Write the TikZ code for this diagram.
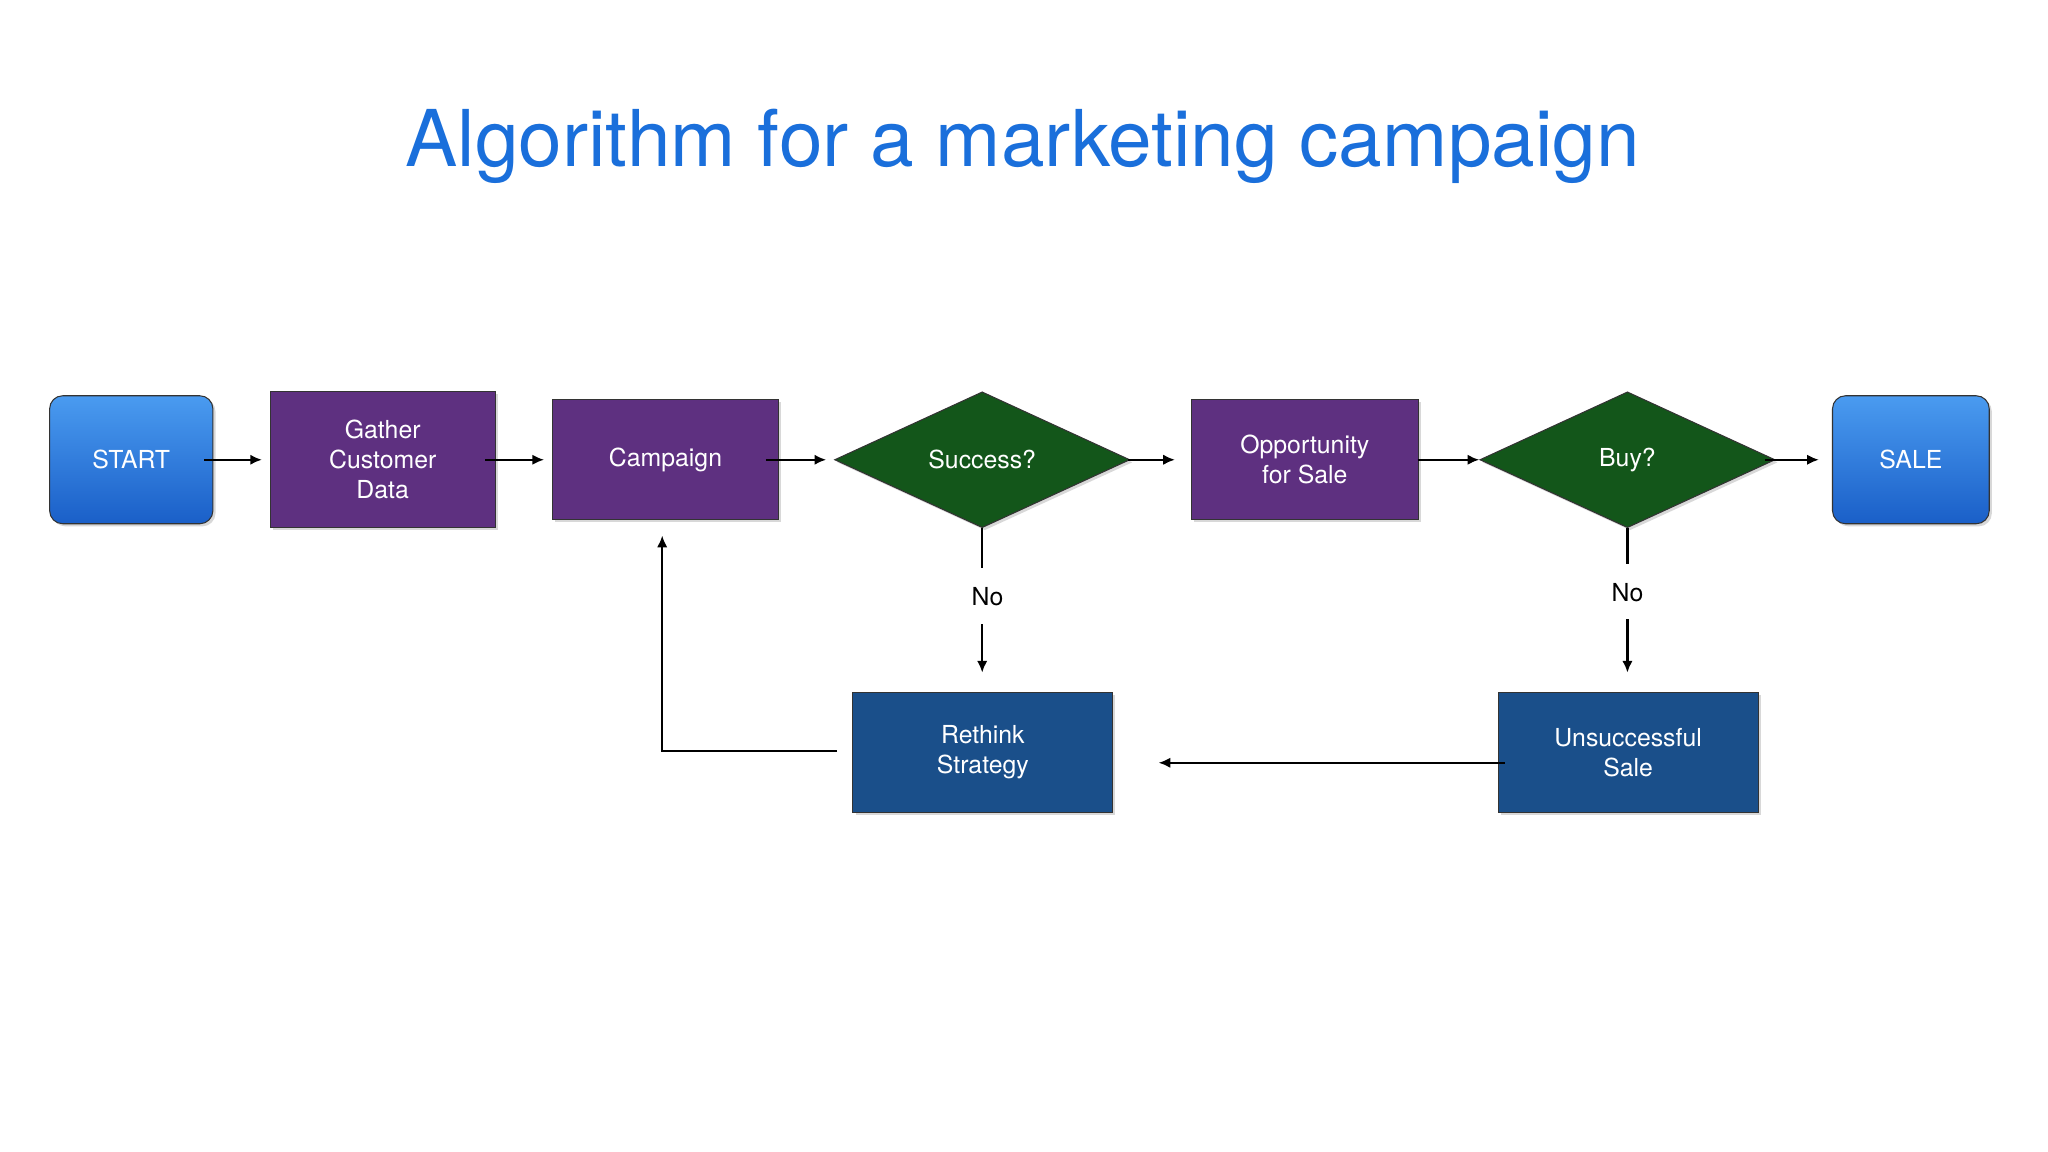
\documentclass[tikz,border=0pt]{standalone}
\usepackage{fontspec}
\setmainfont{TeX Gyre Heros}
\usetikzlibrary{shapes.geometric,shadows,arrows.meta}
\definecolor{titleblue}{HTML}{1A6FDB}
\definecolor{purp}{HTML}{5E3080}
\definecolor{grn}{HTML}{13561A}
\definecolor{dblue}{HTML}{1A4F8A}
\definecolor{btop}{HTML}{4A9BF0}
\definecolor{bbot}{HTML}{1A5FC8}
\begin{document}
\begin{tikzpicture}[x=1pt,y=-1pt,
  every node/.style={font=\fontsize{19}{23}\selectfont, text=white, align=center},
  base/.style={draw=black!80, line width=0.8pt, drop shadow={shadow xshift=2pt, shadow yshift=-2pt, opacity=0.3}},
  term/.style={base, rounded corners=10pt, top color=btop, bottom color=bbot, minimum width=125pt, minimum height=98pt},
  proc/.style={base, fill=purp, minimum width=173pt, minimum height=92pt},
  dec/.style={base, diamond, fill=grn, aspect=2.17, minimum width=226pt, minimum height=104pt, inner sep=0pt},
  blk/.style={base, fill=dblue, minimum width=199pt, minimum height=92pt},
  arr/.style={-{Latex[length=9pt,width=8pt]}, line width=1.8pt},
  ln/.style={line width=1.8pt}]
\useasboundingbox (0,0) rectangle (1568,882);
\fill[white] (0,0) rectangle (1568,882);
\node[text=titleblue, font=\fontsize{60}{70}\selectfont] (title) at (783,112) {Algorithm for a marketing campaign};
\node[term] (start) at (100.5,352) {START};
\node[proc, minimum height=104pt, minimum width=172pt] (gather) at (293,352) {Gather\\Customer\\Data};
\node[proc] (camp) at (509.5,352) {Campaign};
\node[dec] (succ) at (752,352) {Success?};
\node[proc, minimum width=174pt] (opp) at (999,352) {Opportunity\\for Sale};
\node[dec] (buy) at (1246,352) {Buy?};
\node[term, minimum width=120pt] (sale) at (1463,352) {SALE};
\node[blk] (rethink) at (752.5,576) {Rethink\\Strategy};
\node[blk] (unsucc) at (1246.5,576) {Unsuccessful\\Sale};
\draw[arr, shorten <=-7pt, shorten >=6pt] (start) -- (gather);
\draw[arr, shorten <=-8pt, shorten >=6pt] (gather) -- (camp);
\draw[arr, shorten <=-10pt, shorten >=6pt] (camp) -- (succ);
\draw[arr, shorten <=-2pt, shorten >=12pt] (succ) -- (opp);
\draw[arr, shorten <=-1pt, shorten >=0pt] (opp) -- (buy);
\draw[arr, shorten <=-8pt, shorten >=10pt] (buy) -- (sale);
\node[text=black] (no1) at (756,457) {No};
\node[text=black] (no2) at (1246,454) {No};
\coordinate (n1a) at (752,435);
\coordinate (n1b) at (752,478);
\coordinate (n2a) at (1246,432);
\coordinate (n2b) at (1246,474);
\draw[ln] (succ.south) -- (n1a);
\draw[arr] (n1b) -- (752,515);
\draw[ln] (buy.south) -- (n2a);
\draw[arr] (n2b) -- (1246,515);
\coordinate (u1) at (1152,584);
\coordinate (u2) at (887,584);
\draw[arr] (u1) -- (u2);
\coordinate (r1) at (641,575);
\coordinate (r2) at (507,575);
\coordinate (r3) at (507,410);
\draw[arr] (r1) -- (r2) -- (r3);
\end{tikzpicture}
\end{document}
